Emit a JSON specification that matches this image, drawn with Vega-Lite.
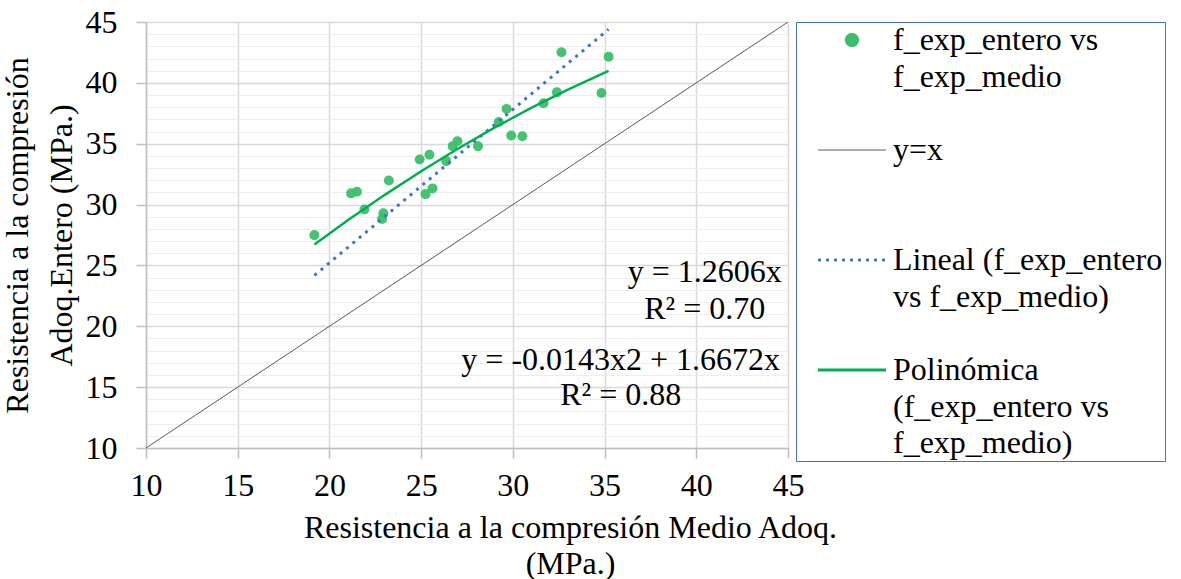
{
  "$schema": "https://vega.github.io/schema/vega-lite/v6.json",
  "width": 642,
  "height": 426,
  "autosize": {"type": "none"},
  "padding": {"left": 146, "top": 22, "right": 393, "bottom": 131},
  "background": "white",
  "config": {
    "view": {"stroke": null},
    "axis": {
      "labelColor": "black",
      "labelFlush": false,
      "labelOverlap": false,
      "titleFont": "Liberation Serif",
      "titleFontSize": 32,
      "titleFontWeight": "normal",
      "titleColor": "black",
      "domainColor": "#BFBFBF",
      "domainWidth": 1.5,
      "tickColor": "#BFBFBF",
      "tickWidth": 1.5,
      "tickSize": 10,
      "gridColor": "#D9D9D9",
      "gridWidth": 1.5
    }
  },
  "datasets": {
    "puntos": [
      {"series": "f_exp_entero vs f_exp_medio", "medio": 19.18, "entero": 27.49},
      {"series": "f_exp_entero vs f_exp_medio", "medio": 21.18, "entero": 30.92},
      {"series": "f_exp_entero vs f_exp_medio", "medio": 21.5, "entero": 31.06},
      {"series": "f_exp_entero vs f_exp_medio", "medio": 21.91, "entero": 29.59},
      {"series": "f_exp_entero vs f_exp_medio", "medio": 22.94, "entero": 29.29},
      {"series": "f_exp_entero vs f_exp_medio", "medio": 22.87, "entero": 28.82},
      {"series": "f_exp_entero vs f_exp_medio", "medio": 23.24, "entero": 31.98},
      {"series": "f_exp_entero vs f_exp_medio", "medio": 24.92, "entero": 33.7},
      {"series": "f_exp_entero vs f_exp_medio", "medio": 25.45, "entero": 34.09},
      {"series": "f_exp_entero vs f_exp_medio", "medio": 25.24, "entero": 30.86},
      {"series": "f_exp_entero vs f_exp_medio", "medio": 25.62, "entero": 31.33},
      {"series": "f_exp_entero vs f_exp_medio", "medio": 26.37, "entero": 33.57},
      {"series": "f_exp_entero vs f_exp_medio", "medio": 26.72, "entero": 34.8},
      {"series": "f_exp_entero vs f_exp_medio", "medio": 26.98, "entero": 35.2},
      {"series": "f_exp_entero vs f_exp_medio", "medio": 28.1, "entero": 34.8},
      {"series": "f_exp_entero vs f_exp_medio", "medio": 29.23, "entero": 36.78},
      {"series": "f_exp_entero vs f_exp_medio", "medio": 29.66, "entero": 37.86},
      {"series": "f_exp_entero vs f_exp_medio", "medio": 29.91, "entero": 35.67},
      {"series": "f_exp_entero vs f_exp_medio", "medio": 30.52, "entero": 35.62},
      {"series": "f_exp_entero vs f_exp_medio", "medio": 31.67, "entero": 38.32},
      {"series": "f_exp_entero vs f_exp_medio", "medio": 32.4, "entero": 39.22},
      {"series": "f_exp_entero vs f_exp_medio", "medio": 32.65, "entero": 42.52},
      {"series": "f_exp_entero vs f_exp_medio", "medio": 34.83, "entero": 39.16},
      {"series": "f_exp_entero vs f_exp_medio", "medio": 35.22, "entero": 42.14}
    ],
    "identidad": [
      {"series": "y=x", "medio": 10, "entero": 10},
      {"series": "y=x", "medio": 45, "entero": 45}
    ],
    "lineal": [
      {"series": "Lineal (f_exp_entero vs f_exp_medio)", "medio": 19.18, "entero": 24.18},
      {"series": "Lineal (f_exp_entero vs f_exp_medio)", "medio": 35.22, "entero": 44.4}
    ],
    "polinomica": [
      {"series": "Polinómica (f_exp_entero vs f_exp_medio)", "medio": 19.18, "entero": 26.72},
      {"series": "Polinómica (f_exp_entero vs f_exp_medio)", "medio": 21, "entero": 28.71},
      {"series": "Polinómica (f_exp_entero vs f_exp_medio)", "medio": 23, "entero": 30.78},
      {"series": "Polinómica (f_exp_entero vs f_exp_medio)", "medio": 25, "entero": 32.74},
      {"series": "Polinómica (f_exp_entero vs f_exp_medio)", "medio": 27, "entero": 34.59},
      {"series": "Polinómica (f_exp_entero vs f_exp_medio)", "medio": 29, "entero": 36.32},
      {"series": "Polinómica (f_exp_entero vs f_exp_medio)", "medio": 31, "entero": 37.94},
      {"series": "Polinómica (f_exp_entero vs f_exp_medio)", "medio": 33, "entero": 39.45},
      {"series": "Polinómica (f_exp_entero vs f_exp_medio)", "medio": 35.22, "entero": 40.98}
    ],
    "ecuaciones": [
      {"texto": "y = 1.2606x", "cx": 40.46, "cy": 24.46},
      {"texto": "R² = 0.70", "cx": 40.46, "cy": 21.46},
      {"texto": "y = -0.0143x2 + 1.6672x", "cx": 35.88, "cy": 17.23},
      {"texto": "R² = 0.88", "cx": 35.88, "cy": 14.37}
    ]
  },
  "encoding": {
    "x": {
      "field": "medio",
      "type": "quantitative",
      "scale": {"domain": [10, 45], "nice": false, "zero": false},
      "axis": {
        "values": [10, 15, 20, 25, 30, 35, 40, 45],
        "labelFont": "Liberation Serif",
        "labelFontSize": 32,
        "labelFlush": false,
        "labelOverlap": false,
        "encode": {"labels": {"update": {"font": {"value": "Liberation Serif"}, "fontSize": {"value": 32}}}},
        "title": ["Resistencia a la compresión Medio Adoq.", "(MPa.)"],
        "titleX": 424,
        "titleLineHeight": 36,
        "labelPadding": 12,
        "titlePadding": 11
      }
    },
    "y": {
      "field": "entero",
      "type": "quantitative",
      "scale": {"domain": [10, 45], "nice": false, "zero": false},
      "axis": {
        "values": [10, 11, 12, 13, 14, 15, 16, 17, 18, 19, 20, 21, 22, 23, 24, 25, 26, 27, 28, 29, 30, 31, 32, 33, 34, 35, 36, 37, 38, 39, 40, 41, 42, 43, 44, 45],
        "labelExpr": "datum.value % 5 === 0 ? datum.label : ''",
        "labelFont": "Liberation Serif",
        "labelFontSize": 32,
        "labelFlush": false,
        "labelOverlap": false,
        "encode": {"labels": {"update": {"font": {"value": "Liberation Serif"}, "fontSize": {"value": 32}}}},
        "gridColor": {"condition": {"test": "datum.value % 5 === 0", "value": "#D9D9D9"}, "value": "#EDEDED"},
        "gridWidth": {"condition": {"test": "datum.value % 5 === 0", "value": 1.5}, "value": 1},
        "tickOpacity": {"condition": {"test": "datum.value % 5 === 0", "value": 1}, "value": 0},
        "title": ["Resistencia a la compresión", "Adoq.Entero (MPa.)"],
        "titleLineHeight": 44,
        "labelPadding": 19,
        "titlePadding": 7
      }
    },
    "color": {
      "field": "series",
      "type": "nominal",
      "scale": {
        "domain": ["f_exp_entero vs f_exp_medio", "y=x", "Lineal (f_exp_entero vs f_exp_medio)", "Polinómica (f_exp_entero vs f_exp_medio)"],
        "range": ["#3DBF6B", "#595959", "#4472C4", "#00B050"]
      },
      "legend": {
        "title": null,
        "orient": "right",
        "offset": 8,
        "padding": 2,
        "strokeColor": "#4472C4",
        "fillColor": "white",
        "gridAlign": "all",
        "rowPadding": 5,
        "symbolSize": 4624,
        "symbolType": "stroke",
        "symbolOffset": 38,
        "symbolStrokeWidth": 2.5,
        "labelOffset": 25,
        "labelLimit": 0,
        "labelBaseline": "top",
        "labelFont": "Liberation Serif",
        "labelFontSize": 32,
        "labelColor": "black",
        "labelExpr": "datum.value == 'f_exp_entero vs f_exp_medio' ? ['f_exp_entero vs', 'f_exp_medio'] : datum.value == 'Lineal (f_exp_entero vs f_exp_medio)' ? ['Lineal (f_exp_entero', 'vs f_exp_medio)'] : datum.value == 'Polinómica (f_exp_entero vs f_exp_medio)' ? ['Polinómica', '(f_exp_entero vs', 'f_exp_medio)'] : datum.label",
        "encode": {
          "labels": {"update": {"dy": {"value": -15}, "lineHeight": {"value": 36.5}}},
          "symbols": {
            "update": {
              "shape": {"signal": "datum.value == 'f_exp_entero vs f_exp_medio' ? 'M -0.165 0 A 0.165 0.165 0 1 0 0.165 0 A 0.165 0.165 0 1 0 -0.165 0 Z' : 'stroke'"},
              "fill": {"signal": "datum.value == 'f_exp_entero vs f_exp_medio' ? '#3DBF6B' : 'transparent'"},
              "stroke": {"signal": "datum.value == 'f_exp_entero vs f_exp_medio' ? 'transparent' : datum.value == 'y=x' ? '#595959' : datum.value == 'Lineal (f_exp_entero vs f_exp_medio)' ? '#4472C4' : '#00B050'"},
              "strokeWidth": {"signal": "datum.value == 'y=x' ? 1 : 3"},
              "strokeDash": {"signal": "datum.value == 'Lineal (f_exp_entero vs f_exp_medio)' ? [3, 5] : [1, 0]"},
              "opacity": {"value": 1}
            }
          }
        }
      }
    }
  },
  "layer": [
    {
      "data": {"name": "identidad"},
      "mark": {"type": "line", "strokeWidth": 1, "clip": true}
    },
    {
      "data": {"name": "puntos"},
      "mark": {"type": "point", "filled": true, "size": 100, "opacity": 0.95}
    },
    {
      "data": {"name": "lineal"},
      "mark": {"type": "line", "strokeWidth": 3, "strokeDash": [3, 5.3]}
    },
    {
      "data": {"name": "polinomica"},
      "mark": {"type": "line", "strokeWidth": 2.5}
    },
    {
      "data": {"name": "ecuaciones"},
      "mark": {"type": "text", "font": "Liberation Serif", "fontSize": 32, "align": "center", "baseline": "middle", "color": "black"},
      "encoding": {
        "x": {"field": "cx", "type": "quantitative"},
        "y": {"field": "cy", "type": "quantitative"},
        "text": {"field": "texto", "type": "nominal"},
        "color": {"value": "black"}
      }
    }
  ]
}
